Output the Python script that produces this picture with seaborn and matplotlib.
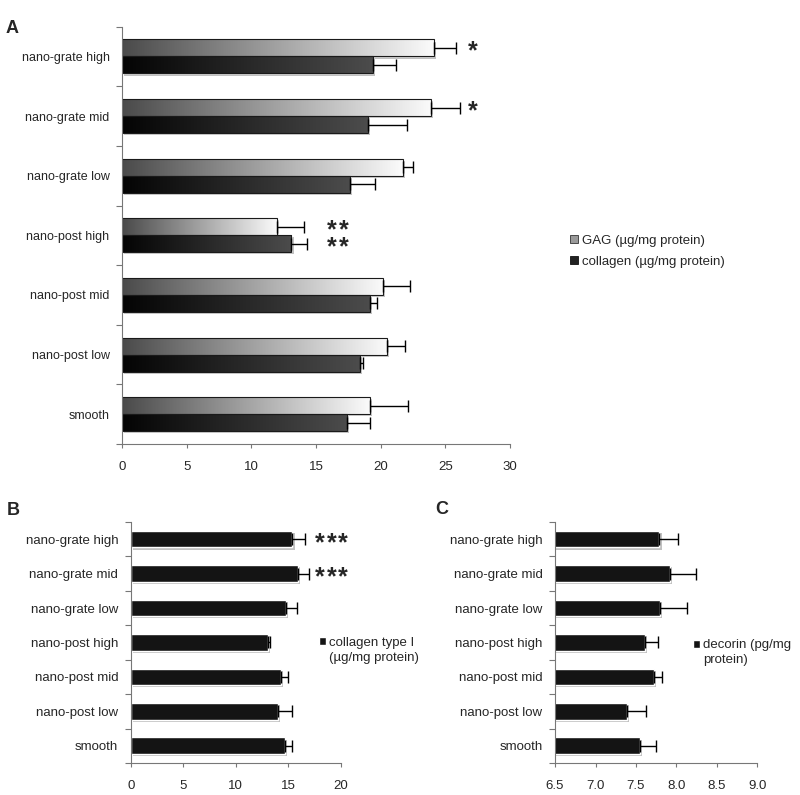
import numpy as np
import pandas as pd
import matplotlib
matplotlib.use('Agg')
import matplotlib.pyplot as plt
import seaborn as sns
from matplotlib import patheffects as pe
from matplotlib.patches import Rectangle, Patch
from matplotlib.colors import LinearSegmentedColormap

# values
categories = ['nano-grate high', 'nano-grate mid', 'nano-grate low', 'nano-post high',
              'nano-post mid', 'nano-post low', 'smooth']
gag = [24.1, 23.9, 21.7, 12.0, 20.2, 20.5, 19.2]
gag_err = [1.7, 2.2, 0.8, 2.1, 2.1, 1.4, 2.9]
collagen = [19.4, 19.0, 17.6, 13.1, 19.2, 18.4, 17.4]
collagen_err = [1.8, 3.0, 2.0, 1.2, 0.5, 0.2, 1.8]
col1 = [15.4, 15.9, 14.8, 13.1, 14.3, 14.0, 14.7]
col1_err = [1.2, 1.1, 1.0, 0.2, 0.7, 1.4, 0.7]
decorin = [7.79, 7.92, 7.80, 7.61, 7.72, 7.39, 7.55]
decorin_err = [0.23, 0.32, 0.33, 0.16, 0.10, 0.24, 0.20]

gag_label = 'GAG (µg/mg protein)'
col_label = 'collagen (µg/mg protein)'
col1_lines = ['collagen type I', '(µg/mg protein)']
dec_lines = ['decorin (pg/mg', 'protein)']

sns.set_style('ticks')
plt.rcParams['font.family'] = ['Liberation Sans', 'DejaVu Sans']

fig = plt.figure(figsize=(8, 7.95), dpi=100)
axA = fig.add_axes([0.1525, 0.4415, 0.485, 0.525])
axB = fig.add_axes([0.1634, 0.0403, 0.2625, 0.3031])
axC = fig.add_axes([0.6938, 0.0403, 0.2529, 0.3031])

shadow = [pe.SimplePatchShadow(offset=(1.5, -1.5), shadow_rgbFace='#777', alpha=0.45), pe.Normal()]
STAR_FS = 18
STAR_PITCH = 8.5  # points between asterisks


def stars(ax, x, bar, n):
    # one asterisk per text, spaced apart; glyph sits high so anchor at baseline, shift down
    y = bar.get_y() + bar.get_height() / 2
    for i in range(n):
        dx = (i - (n - 1) / 2) * STAR_PITCH
        ax.annotate('*', (x, y), xytext=(dx, -0.43 * STAR_FS), textcoords='offset points',
                    ha='center', va='baseline', fontsize=STAR_FS, fontweight='bold',
                    annotation_clip=False)


def two_line_legend(ax, lines, anchor):
    handles = [Patch(facecolor='#141414'), Patch(facecolor='none', edgecolor='none')]
    ax.legend(handles, lines, loc='center left', bbox_to_anchor=anchor,
              bbox_transform=fig.transFigure, frameon=False, fontsize=9.5,
              handlelength=0.55, handleheight=0.55, handletextpad=0.2,
              labelspacing=0.2, borderpad=0, borderaxespad=0)


# ---- panel A
dfA = pd.DataFrame({'cat': categories * 2, 'val': gag + collagen,
                    'series': [gag_label] * 7 + [col_label] * 7})
sns.barplot(data=dfA, x='val', y='cat', hue='series', orient='h', ax=axA, width=0.57,
            palette=['#999999', '#333333'], legend=False, errorbar=None, saturation=1)

grad = np.linspace(0, 1, 256).reshape(1, -1)
cmaps = [LinearSegmentedColormap.from_list('g', ['#4a4a4a', '#fbfbfb']),
         LinearSegmentedColormap.from_list('c', ['#040404', '#4c4c4c'])]
for cont, cmap, errs in zip(axA.containers, cmaps, [gag_err, collagen_err]):
    for bar, e in zip(cont, errs):
        x0, y0 = bar.get_x(), bar.get_y()
        w, h = bar.get_width(), bar.get_height()
        bar.set_zorder(1)
        bar.set_path_effects(shadow)
        im = axA.imshow(grad, extent=[x0, x0 + w, y0 + h, y0], cmap=cmap, aspect='auto',
                        zorder=1.5, interpolation='bilinear')
        im.set_clip_path(bar)
        axA.add_patch(Rectangle((x0, y0), w, h, fill=False, ec='#1a1a1a', lw=0.8, zorder=2))
        axA.errorbar(w, y0 + h / 2, xerr=[[0], [e]], fmt='none', ecolor='black',
                     elinewidth=1, capsize=4.5, capthick=1, zorder=3)

gag_bars = axA.containers[0]
col_bars = axA.containers[1]
stars(axA, 27.1, gag_bars[0], 1)
stars(axA, 27.1, gag_bars[1], 1)
stars(axA, 16.7, gag_bars[3], 2)
stars(axA, 16.7, col_bars[3], 2)

axA.set_xlim(0, 30)
axA.set_ylim(6.5, -0.5)
axA.set_xticks(range(0, 31, 5))
axA.legend([Patch(facecolor='#9a9a9a', edgecolor='#333', lw=0.6),
            Patch(facecolor='#222', edgecolor='#111', lw=0.6)],
           [gag_label, col_label], loc='center left', bbox_to_anchor=(0.713, 0.684),
           bbox_transform=fig.transFigure, frameon=False, fontsize=9.5, handlelength=0.6,
           handleheight=0.6, handletextpad=0.25, labelspacing=0.7, borderpad=0,
           borderaxespad=0)

# ---- panel B
sns.barplot(x=col1, y=categories, orient='h', ax=axB, color='#141414', width=0.48,
            saturation=1, errorbar=None)
for bar, e in zip(axB.containers[0], col1_err):
    bar.set_path_effects(shadow)
    axB.errorbar(bar.get_width(), bar.get_y() + bar.get_height() / 2, xerr=[[0], [e]],
                 fmt='none', ecolor='black', elinewidth=1, capsize=4, capthick=1, zorder=3)
for b in list(axB.containers[0])[:2]:
    stars(axB, 19.1, b, 3)
axB.set_xlim(0, 20)
axB.set_ylim(6.5, -0.5)
axB.set_xticks(range(0, 21, 5))
two_line_legend(axB, col1_lines, (0.399, 0.182))

# ---- panel C
sns.barplot(x=decorin, y=categories, orient='h', ax=axC, color='#141414', width=0.48,
            saturation=1, errorbar=None)
for bar, e in zip(axC.containers[0], decorin_err):
    bar.set_path_effects(shadow)
    axC.errorbar(bar.get_width(), bar.get_y() + bar.get_height() / 2, xerr=[[0], [e]],
                 fmt='none', ecolor='black', elinewidth=1, capsize=4, capthick=1, zorder=3)
axC.set_xlim(6.5, 9.0)
axC.set_ylim(6.5, -0.5)
axC.set_xticks(np.arange(6.5, 9.01, 0.5))
axC.set_xticklabels([f'{t:.1f}' for t in np.arange(6.5, 9.01, 0.5)])
two_line_legend(axC, dec_lines, (0.866, 0.179))

for ax, fs in [(axA, 9), (axB, 9.5), (axC, 9.5)]:
    ax.set_xlabel('')
    ax.set_ylabel('')
    sns.despine(ax=ax)
    for s in ['left', 'bottom']:
        ax.spines[s].set_color('#777777')
        ax.spines[s].set_linewidth(0.8)
    ax.set_yticks(np.arange(-0.5, 7, 1), minor=True)
    ax.tick_params(axis='y', which='major', length=0, pad=9, labelsize=fs)
    ax.tick_params(axis='y', which='minor', length=4, width=0.8, color='#777777')
    ax.tick_params(axis='x', length=3, width=0.8, color='#777777', pad=9, labelsize=9.5)

fig.text(6 / 800, 1 - 28.5 / 795, 'A', fontsize=13, fontweight='bold', va='center')
fig.text(7 / 800, 1 - 510.5 / 795, 'B', fontsize=13, fontweight='bold', va='center')
fig.text(435 / 800, 1 - 510 / 795, 'C', fontsize=13, fontweight='bold', va='center')

fig.savefig('out.png', dpi=100)
